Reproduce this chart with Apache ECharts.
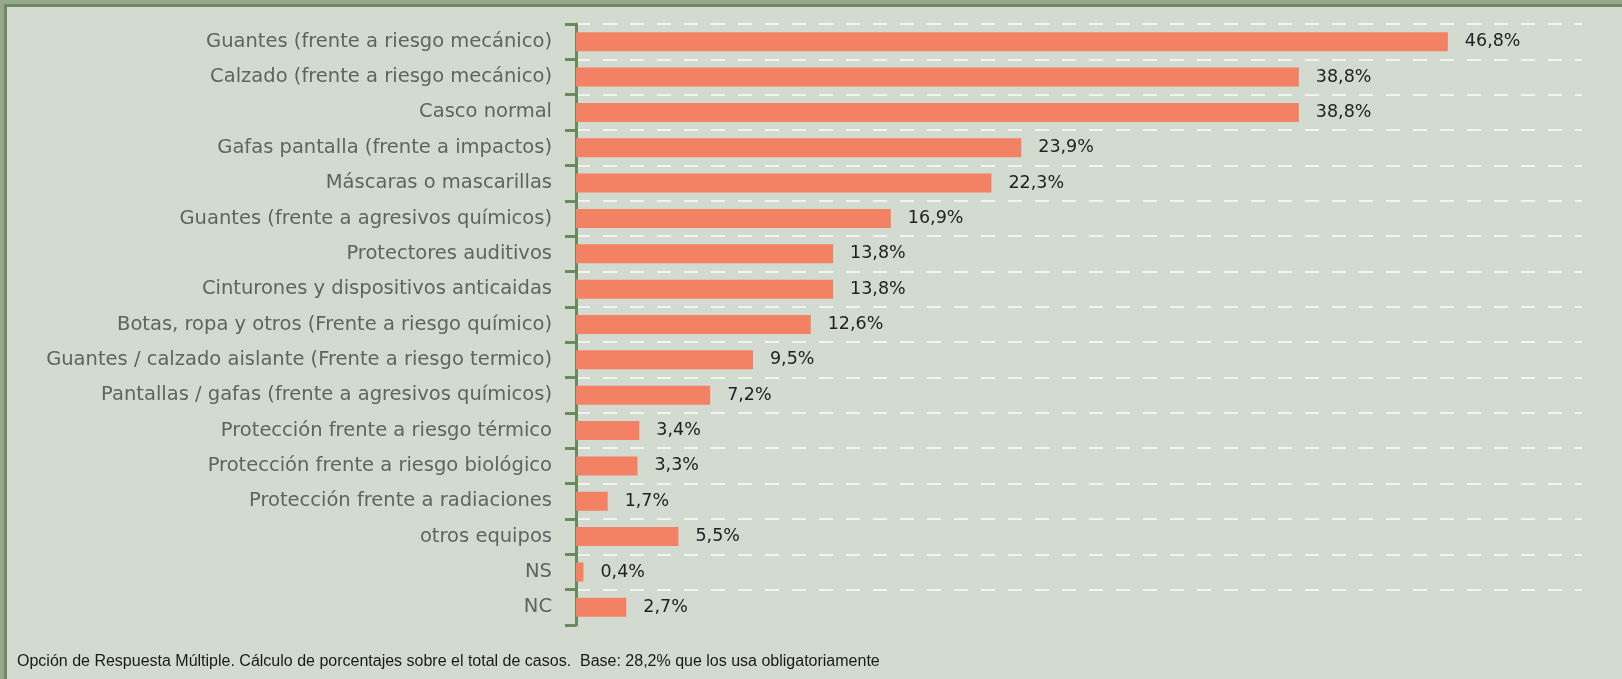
<!DOCTYPE html>
<html>
<head>
<meta charset="utf-8">
<script src="https://cdn.jsdelivr.net/npm/echarts@6/dist/echarts.min.js"></script>
<style>
  html, body { margin: 0; padding: 0; }
  body { width: 1622px; height: 679px; background: #97a88b; overflow: hidden; }
  #frame {
    position: absolute; left: 4px; top: 4px; right: 0; bottom: 0;
    border-top: 3px solid #6b8a5f; border-left: 3px solid #6b8a5f;
    background: #d3dacf;
  }
  #chart { position: absolute; left: -7px; top: -7px; width: 1622px; height: 679px; }
</style>
</head>
<body>
<div id="frame"><div id="chart"></div></div>
<script>
// equipos de protección individual
var categorias = [
  "Guantes (frente a riesgo mecánico)",
  "Calzado (frente a riesgo mecánico)",
  "Casco normal",
  "Gafas pantalla (frente a impactos)",
  "Máscaras o mascarillas",
  "Guantes (frente a agresivos químicos)",
  "Protectores auditivos",
  "Cinturones y dispositivos anticaidas",
  "Botas, ropa y otros (Frente a riesgo químico)",
  "Guantes / calzado aislante (Frente a riesgo termico)",
  "Pantallas / gafas (frente a agresivos químicos)",
  "Protección frente a riesgo térmico",
  "Protección frente a riesgo biológico",
  "Protección frente a radiaciones",
  "otros equipos",
  "NS",
  "NC"
];
var porcentajes = [46.8, 38.8, 38.8, 23.9, 22.3, 16.9, 13.8, 13.8, 12.6, 9.5, 7.2, 3.4, 3.3, 1.7, 5.5, 0.4, 2.7];
var nota = "Opción de Respuesta Múltiple. Cálculo de porcentajes sobre el total de casos.  Base: 28,2% que los usa obligatoriamente";

var verde = "#6b8a5f";
var chart = echarts.init(document.getElementById("chart"));

var option = {
  animation: false,
  grid: { left: 576, right: 40, top: 24, bottom: 54 },
  xAxis: {
    type: "value",
    min: 0,
    max: 54,
    show: false,
    splitLine: { show: false }
  },
  yAxis: {
    type: "category",
    inverse: true,
    data: categorias,
    axisLine: { show: true, lineStyle: { color: verde, width: 3 } },
    axisTick: { show: true, length: 11, lineStyle: { color: verde, width: 3 } },
    axisLabel: {
      margin: 24,
      color: "#5f6461",
      fontFamily: "DejaVu Sans",
      fontSize: 19.5
    },
    splitLine: {
      show: true,
      showMaxLine: false,
      lineStyle: { color: "#f2f4f0", width: 2, type: [14, 13] }
    }
  },
  series: [
    {
      type: "bar",
      data: porcentajes,
      barWidth: 19,
      itemStyle: { color: "#f38264" },
      label: {
        show: true,
        position: "right",
        distance: 17,
        color: "#222222",
        fontFamily: "DejaVu Sans",
        fontSize: 17.5,
        formatter: function (p) {
          return p.value.toFixed(1).replace(".", ",") + "%";
        }
      }
    }
  ],
  graphic: [
    {
      type: "text",
      left: 17,
      top: 654,
      style: {
        text: nota,
        fill: "#1a1a1a",
        font: "16px 'Liberation Sans'"
      }
    }
  ]
};

chart.setOption(option);
</script>
</body>
</html>
